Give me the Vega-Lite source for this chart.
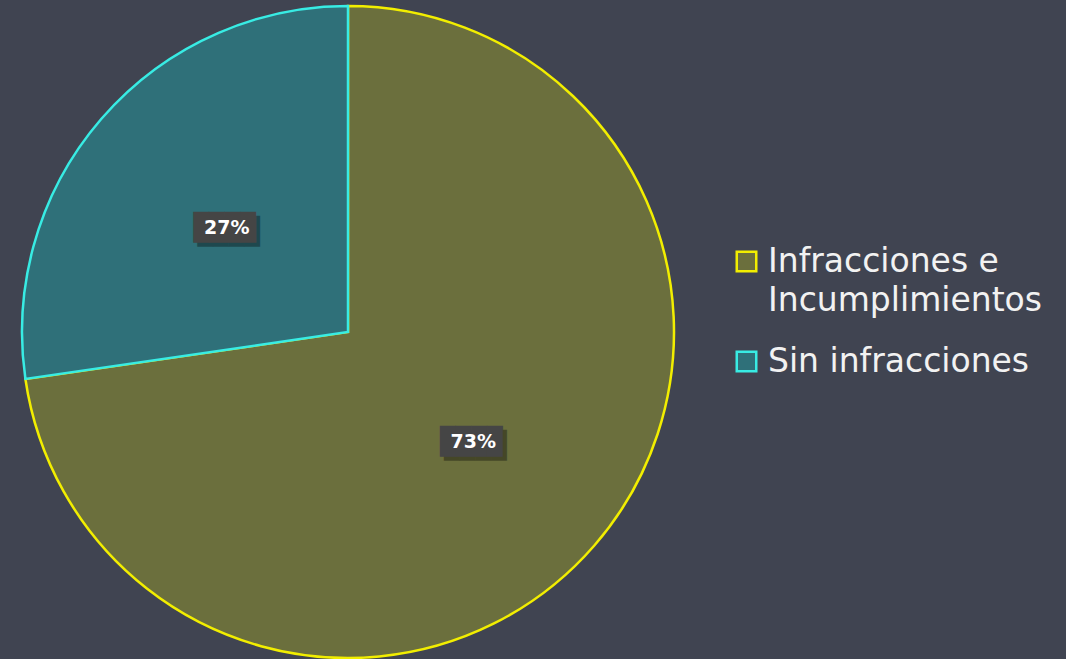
{
  "$schema": "https://vega.github.io/schema/vega-lite/v6.json",
  "width": 696,
  "height": 654,
  "autosize": {"type": "none"},
  "padding": {"left": 0, "top": 5, "right": 370, "bottom": 0},
  "background": "#404451",
  "config": {
    "view": {"stroke": null},
    "style": {"guide-label": {"lineHeight": 39}}
  },
  "data": {
    "values": [
      {"categoria": "Infracciones e Incumplimientos", "porcentaje": 72.7, "etiqueta": "73%"},
      {"categoria": "Sin infracciones", "porcentaje": 27.3, "etiqueta": "27%"}
    ]
  },
  "encoding": {
    "theta": {"field": "porcentaje", "type": "quantitative", "stack": true},
    "order": {"field": "porcentaje", "type": "quantitative", "sort": "descending"}
  },
  "layer": [
    {
      "mark": {"type": "arc", "outerRadius": 326, "strokeWidth": 2.5},
      "encoding": {
        "fill": {
          "field": "categoria",
          "type": "nominal",
          "scale": {"range": ["#6b6f3d", "#2f7079"]},
          "legend": {
            "orient": "none",
            "legendX": 730,
            "legendY": 240,
            "title": null,
            "padding": 0,
            "symbolType": "square",
            "symbolSize": 380,
            "symbolStrokeWidth": 2.5,
            "symbolOpacity": 1,
            "labelFont": "DejaVu Sans",
            "labelFontSize": 33,
            "labelColor": "#f2f2f2",
            "labelLimit": 400,
            "labelOffset": 5,
            "rowPadding": 27,
            "labelExpr": "datum.label == 'Infracciones e Incumplimientos' ? ['Infracciones e', 'Incumplimientos'] : datum.label"
          }
        },
        "stroke": {
          "field": "categoria",
          "type": "nominal",
          "scale": {"range": ["#f2ee00", "#38ece4"]}
        }
      }
    },
    {
      "mark": {"type": "text", "radius": 163, "text": "████", "font": "DejaVu Sans Mono", "fontSize": 26, "color": "#000000", "opacity": 0.35, "dx": 4, "dy": 7, "baseline": "middle", "align": "center"}
    },
    {
      "mark": {"type": "text", "radius": 163, "text": "████", "font": "DejaVu Sans Mono", "fontSize": 26, "color": "#454545", "opacity": 1, "dy": 3, "baseline": "middle", "align": "center"}
    },
    {
      "mark": {"type": "text", "radius": 163, "font": "DejaVu Sans", "fontWeight": "bold", "fontSize": 19, "color": "#ffffff", "dx": 2, "dy": 3, "baseline": "middle", "align": "center"},
      "encoding": {"text": {"field": "etiqueta", "type": "nominal"}}
    }
  ]
}
